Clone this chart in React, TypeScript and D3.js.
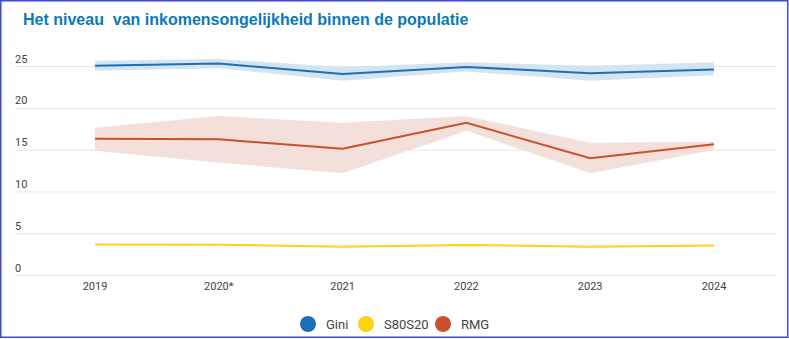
import React from "react";
import * as d3 from "d3";

const years = ["2019", "2020*", "2021", "2022", "2023", "2024"];
const giniValues = [25.1, 25.35, 24.1, 24.95, 24.2, 24.65];
const giniLower = [24.5, 24.8, 23.3, 24.4, 23.3, 23.95];
const giniUpper = [25.7, 25.9, 24.9, 25.5, 25.1, 25.5];
const s80Values = [3.7, 3.68, 3.45, 3.65, 3.45, 3.58];
const rmgValues = [16.37, 16.29, 15.17, 18.27, 14.02, 15.69];
const rmgLower = [14.93, 13.5, 12.22, 17.32, 12.22, 15.0];
const rmgUpper = [17.68, 19.08, 18.27, 19.08, 15.88, 16.0];
const yTicks = [0, 5, 10, 15, 20, 25];
const legendLabels = ["Gini", "S80S20", "RMG"];

const W = 789;
const H = 339;
const colors = { Gini: "#1f6fb5", S80S20: "#fdd20e", RMG: "#c8502a" };
const bands = { Gini: "#cfe1ef", RMG: "#f3ddd6" };

export default function App() {
  const x = d3.scalePoint<string>().domain(years).range([95, 714]);
  const y = d3.scaleLinear().domain([0, 25]).range([275.5, 66.5]);

  const line = d3
    .line<number>()
    .x((_, i) => x(years[i]) as number)
    .y((d) => y(d));
  const area = (lo: number[], hi: number[]) =>
    d3
      .area<number>()
      .x((_, i) => x(years[i]) as number)
      .y0((_, i) => y(lo[i]))
      .y1((_, i) => y(hi[i]))(lo.map((v) => v)) as string;

  const legendX = [308, 366, 443];
  const legendColors = [colors.Gini, colors.S80S20, colors.RMG];

  return (
    <svg
      width={W}
      height={H}
      style={{ position: "absolute", left: 0, top: 0, background: "#fff" }}
    >
      <rect x={0} y={0} width={W} height={H} fill="#fff" />
      <text
        x={23}
        y={25}
        fill="#0b78b8"
        fontFamily="'Liberation Sans', Arial, sans-serif"
        fontSize={16}
        fontWeight="bold"
      >
        {"Het niveau\u00a0 van inkomensongelijkheid binnen de populatie"}
      </text>
      {yTicks.map((t) => (
        <g key={t}>
          <line
            x1={15}
            x2={777}
            y1={y(t)}
            y2={y(t)}
            stroke="#e6e6e6"
            strokeWidth={1}
          />
          <text
            x={15}
            y={y(t) - 4}
            fill="#444"
            fontFamily="Roboto, sans-serif"
            fontSize={11}
          >
            {t}
          </text>
        </g>
      ))}
      <path d={area(giniLower, giniUpper)} fill={bands.Gini} opacity={0.9} />
      <path d={area(rmgLower, rmgUpper)} fill={bands.RMG} opacity={0.9} />
      <path
        d={line(giniValues) as string}
        fill="none"
        stroke={colors.Gini}
        strokeWidth={2}
      />
      <path
        d={line(rmgValues) as string}
        fill="none"
        stroke={colors.RMG}
        strokeWidth={2}
      />
      <path
        d={line(s80Values) as string}
        fill="none"
        stroke={colors.S80S20}
        strokeWidth={2}
      />
      {years.map((yr) => (
        <text
          key={yr}
          x={x(yr)}
          y={290}
          textAnchor="middle"
          fill="#444"
          fontFamily="Roboto, sans-serif"
          fontSize={11}
        >
          {yr}
        </text>
      ))}
      {legendLabels.map((l, i) => (
        <g key={l}>
          <circle cx={legendX[i]} cy={324} r={8} fill={legendColors[i]} />
          <text
            x={legendX[i] + 18}
            y={329}
            fill="#444"
            fontFamily="Roboto, sans-serif"
            fontSize={13}
          >
            {l}
          </text>
        </g>
      ))}
      <rect
        x={0.75}
        y={0.75}
        width={787}
        height={336.5}
        fill="none"
        stroke="#3f4bd6"
        strokeWidth={1.5}
      />
    </svg>
  );
}
